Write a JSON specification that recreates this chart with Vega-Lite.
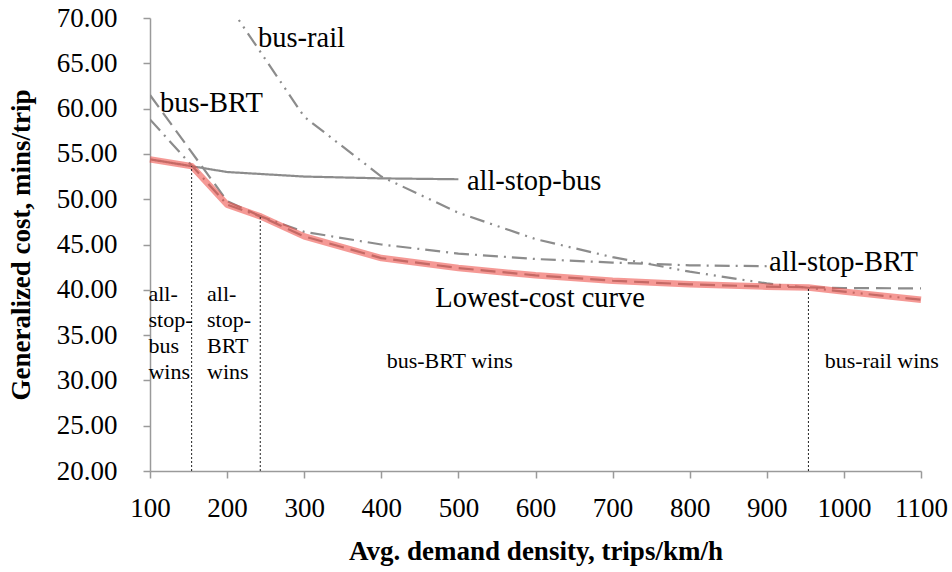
{
  "$schema": "https://vega.github.io/schema/vega-lite/v6.json",
  "autosize": "none",
  "width": 771,
  "height": 453,
  "padding": {"left": 150, "top": 18, "right": 31, "bottom": 101},
  "background": "white",
  "config": {
    "view": {"stroke": null},
    "font": "Liberation Serif",
    "axis": {
      "labelFont": "Liberation Serif",
      "titleFont": "Liberation Serif",
      "labelColor": "black",
      "titleColor": "black",
      "labelFontSize": 27,
      "titleFontSize": 27,
      "titleFontWeight": "bold",
      "domainColor": "#9a9a9a",
      "domainWidth": 1.5,
      "tickColor": "#9a9a9a",
      "tickWidth": 1.5,
      "tickSize": 7,
      "grid": false
    }
  },
  "datasets": {
    "curves": [
      {"mode": "all-stop-bus", "x": 100, "y": 54.4},
      {"mode": "all-stop-bus", "x": 200, "y": 53.0},
      {"mode": "all-stop-bus", "x": 300, "y": 52.5},
      {"mode": "all-stop-bus", "x": 400, "y": 52.3},
      {"mode": "all-stop-bus", "x": 500, "y": 52.2},
      {"mode": "all-stop-BRT", "x": 100, "y": 58.8},
      {"mode": "all-stop-BRT", "x": 200, "y": 49.4},
      {"mode": "all-stop-BRT", "x": 300, "y": 46.4},
      {"mode": "all-stop-BRT", "x": 400, "y": 45.0},
      {"mode": "all-stop-BRT", "x": 500, "y": 44.0},
      {"mode": "all-stop-BRT", "x": 600, "y": 43.4},
      {"mode": "all-stop-BRT", "x": 700, "y": 43.0},
      {"mode": "all-stop-BRT", "x": 800, "y": 42.7},
      {"mode": "all-stop-BRT", "x": 900, "y": 42.6},
      {"mode": "bus-BRT", "x": 100, "y": 61.5},
      {"mode": "bus-BRT", "x": 200, "y": 49.8},
      {"mode": "bus-BRT", "x": 300, "y": 45.9},
      {"mode": "bus-BRT", "x": 400, "y": 43.5},
      {"mode": "bus-BRT", "x": 500, "y": 42.4},
      {"mode": "bus-BRT", "x": 600, "y": 41.6},
      {"mode": "bus-BRT", "x": 700, "y": 41.0},
      {"mode": "bus-BRT", "x": 800, "y": 40.6},
      {"mode": "bus-BRT", "x": 900, "y": 40.35},
      {"mode": "bus-BRT", "x": 1000, "y": 40.2},
      {"mode": "bus-BRT", "x": 1100, "y": 40.15},
      {"mode": "bus-rail", "x": 200, "y": 71.7},
      {"mode": "bus-rail", "x": 300, "y": 59.1},
      {"mode": "bus-rail", "x": 400, "y": 52.5},
      {"mode": "bus-rail", "x": 500, "y": 48.5},
      {"mode": "bus-rail", "x": 600, "y": 45.6},
      {"mode": "bus-rail", "x": 700, "y": 43.6},
      {"mode": "bus-rail", "x": 800, "y": 42.0},
      {"mode": "bus-rail", "x": 900, "y": 40.7},
      {"mode": "bus-rail", "x": 1000, "y": 39.8},
      {"mode": "bus-rail", "x": 1100, "y": 38.9}
    ],
    "lowest": [
      {"x": 100, "y": 54.4},
      {"x": 154, "y": 53.65},
      {"x": 200, "y": 49.4},
      {"x": 244, "y": 48.08},
      {"x": 300, "y": 45.9},
      {"x": 400, "y": 43.5},
      {"x": 500, "y": 42.4},
      {"x": 600, "y": 41.6},
      {"x": 700, "y": 41.0},
      {"x": 800, "y": 40.6},
      {"x": 900, "y": 40.35},
      {"x": 954, "y": 40.25},
      {"x": 1000, "y": 39.8},
      {"x": 1100, "y": 38.9}
    ],
    "switches": [
      {"x": 154, "y": 20, "top": 53.65},
      {"x": 243, "y": 20, "top": 48.1},
      {"x": 954, "y": 20, "top": 40.25}
    ],
    "curveLabels": [
      {"x": 240, "y": 67.8, "label": "bus-rail"},
      {"x": 113, "y": 60.6, "label": "bus-BRT"},
      {"x": 511, "y": 52.0, "label": "all-stop-bus"},
      {"x": 903, "y": 43.1, "label": "all-stop-BRT"},
      {"x": 470, "y": 39.1, "label": "Lowest-cost curve"}
    ],
    "regions": [
      {"x": 98, "y": 40.6, "label": "all-\nstop-\nbus\nwins"},
      {"x": 174, "y": 40.6, "label": "all-\nstop-\nBRT\nwins"},
      {"x": 407, "y": 33.2, "label": "bus-BRT wins"},
      {"x": 975, "y": 33.2, "label": "bus-rail wins"}
    ]
  },
  "layer": [
    {
      "data": {"name": "curves"},
      "mark": {"type": "line", "clip": true, "strokeWidth": 2.2, "color": "#8c8c8c"},
      "encoding": {
        "x": {
          "field": "x", "type": "quantitative",
          "scale": {"domain": [100, 1100], "nice": false},
          "axis": {
            "title": "Avg. demand density, trips/km/h",
            "values": [100, 200, 300, 400, 500, 600, 700, 800, 900, 1000, 1100],
            "format": "d",
            "labelPadding": 17,
            "titlePadding": 17,
            "labelFlush": false
          }
        },
        "y": {
          "field": "y", "type": "quantitative",
          "scale": {"domain": [20, 70], "nice": false},
          "axis": {
            "title": "Generalized cost, mins/trip",
            "values": [20, 25, 30, 35, 40, 45, 50, 55, 60, 65, 70],
            "format": ".2f",
            "labelPadding": 26,
            "titlePadding": 21,
            "labelFlush": false
          }
        },
        "detail": {"field": "mode"},
        "strokeDash": {
          "field": "mode", "type": "nominal", "legend": null,
          "scale": {
            "domain": ["all-stop-bus", "all-stop-BRT", "bus-BRT", "bus-rail"],
            "range": [[1, 0], [15, 6, 2, 6], [15, 7], [15, 6, 2, 6, 2, 6]]
          }
        }
      }
    },
    {
      "data": {"name": "lowest"},
      "mark": {"type": "line", "color": "#ee4f48", "opacity": 0.58, "strokeWidth": 6.5, "strokeJoin": "round"},
      "encoding": {
        "x": {"field": "x", "type": "quantitative"},
        "y": {"field": "y", "type": "quantitative"}
      }
    },
    {
      "data": {"name": "switches"},
      "mark": {"type": "rule", "color": "#222222", "strokeWidth": 1, "strokeDash": [2, 2]},
      "encoding": {
        "x": {"field": "x", "type": "quantitative"},
        "y": {"field": "y", "type": "quantitative"},
        "y2": {"field": "top"}
      }
    },
    {
      "data": {"name": "curveLabels"},
      "mark": {"type": "text", "align": "left", "baseline": "middle", "font": "Liberation Serif", "fontSize": 28.5, "color": "black"},
      "encoding": {
        "x": {"field": "x", "type": "quantitative"},
        "y": {"field": "y", "type": "quantitative"},
        "text": {"field": "label"}
      }
    },
    {
      "data": {"name": "regions"},
      "mark": {"type": "text", "align": "left", "baseline": "top", "font": "Liberation Serif", "fontSize": 22, "lineHeight": 26, "lineBreak": "\n", "color": "black"},
      "encoding": {
        "x": {"field": "x", "type": "quantitative"},
        "y": {"field": "y", "type": "quantitative"},
        "text": {"field": "label"}
      }
    }
  ]
}
